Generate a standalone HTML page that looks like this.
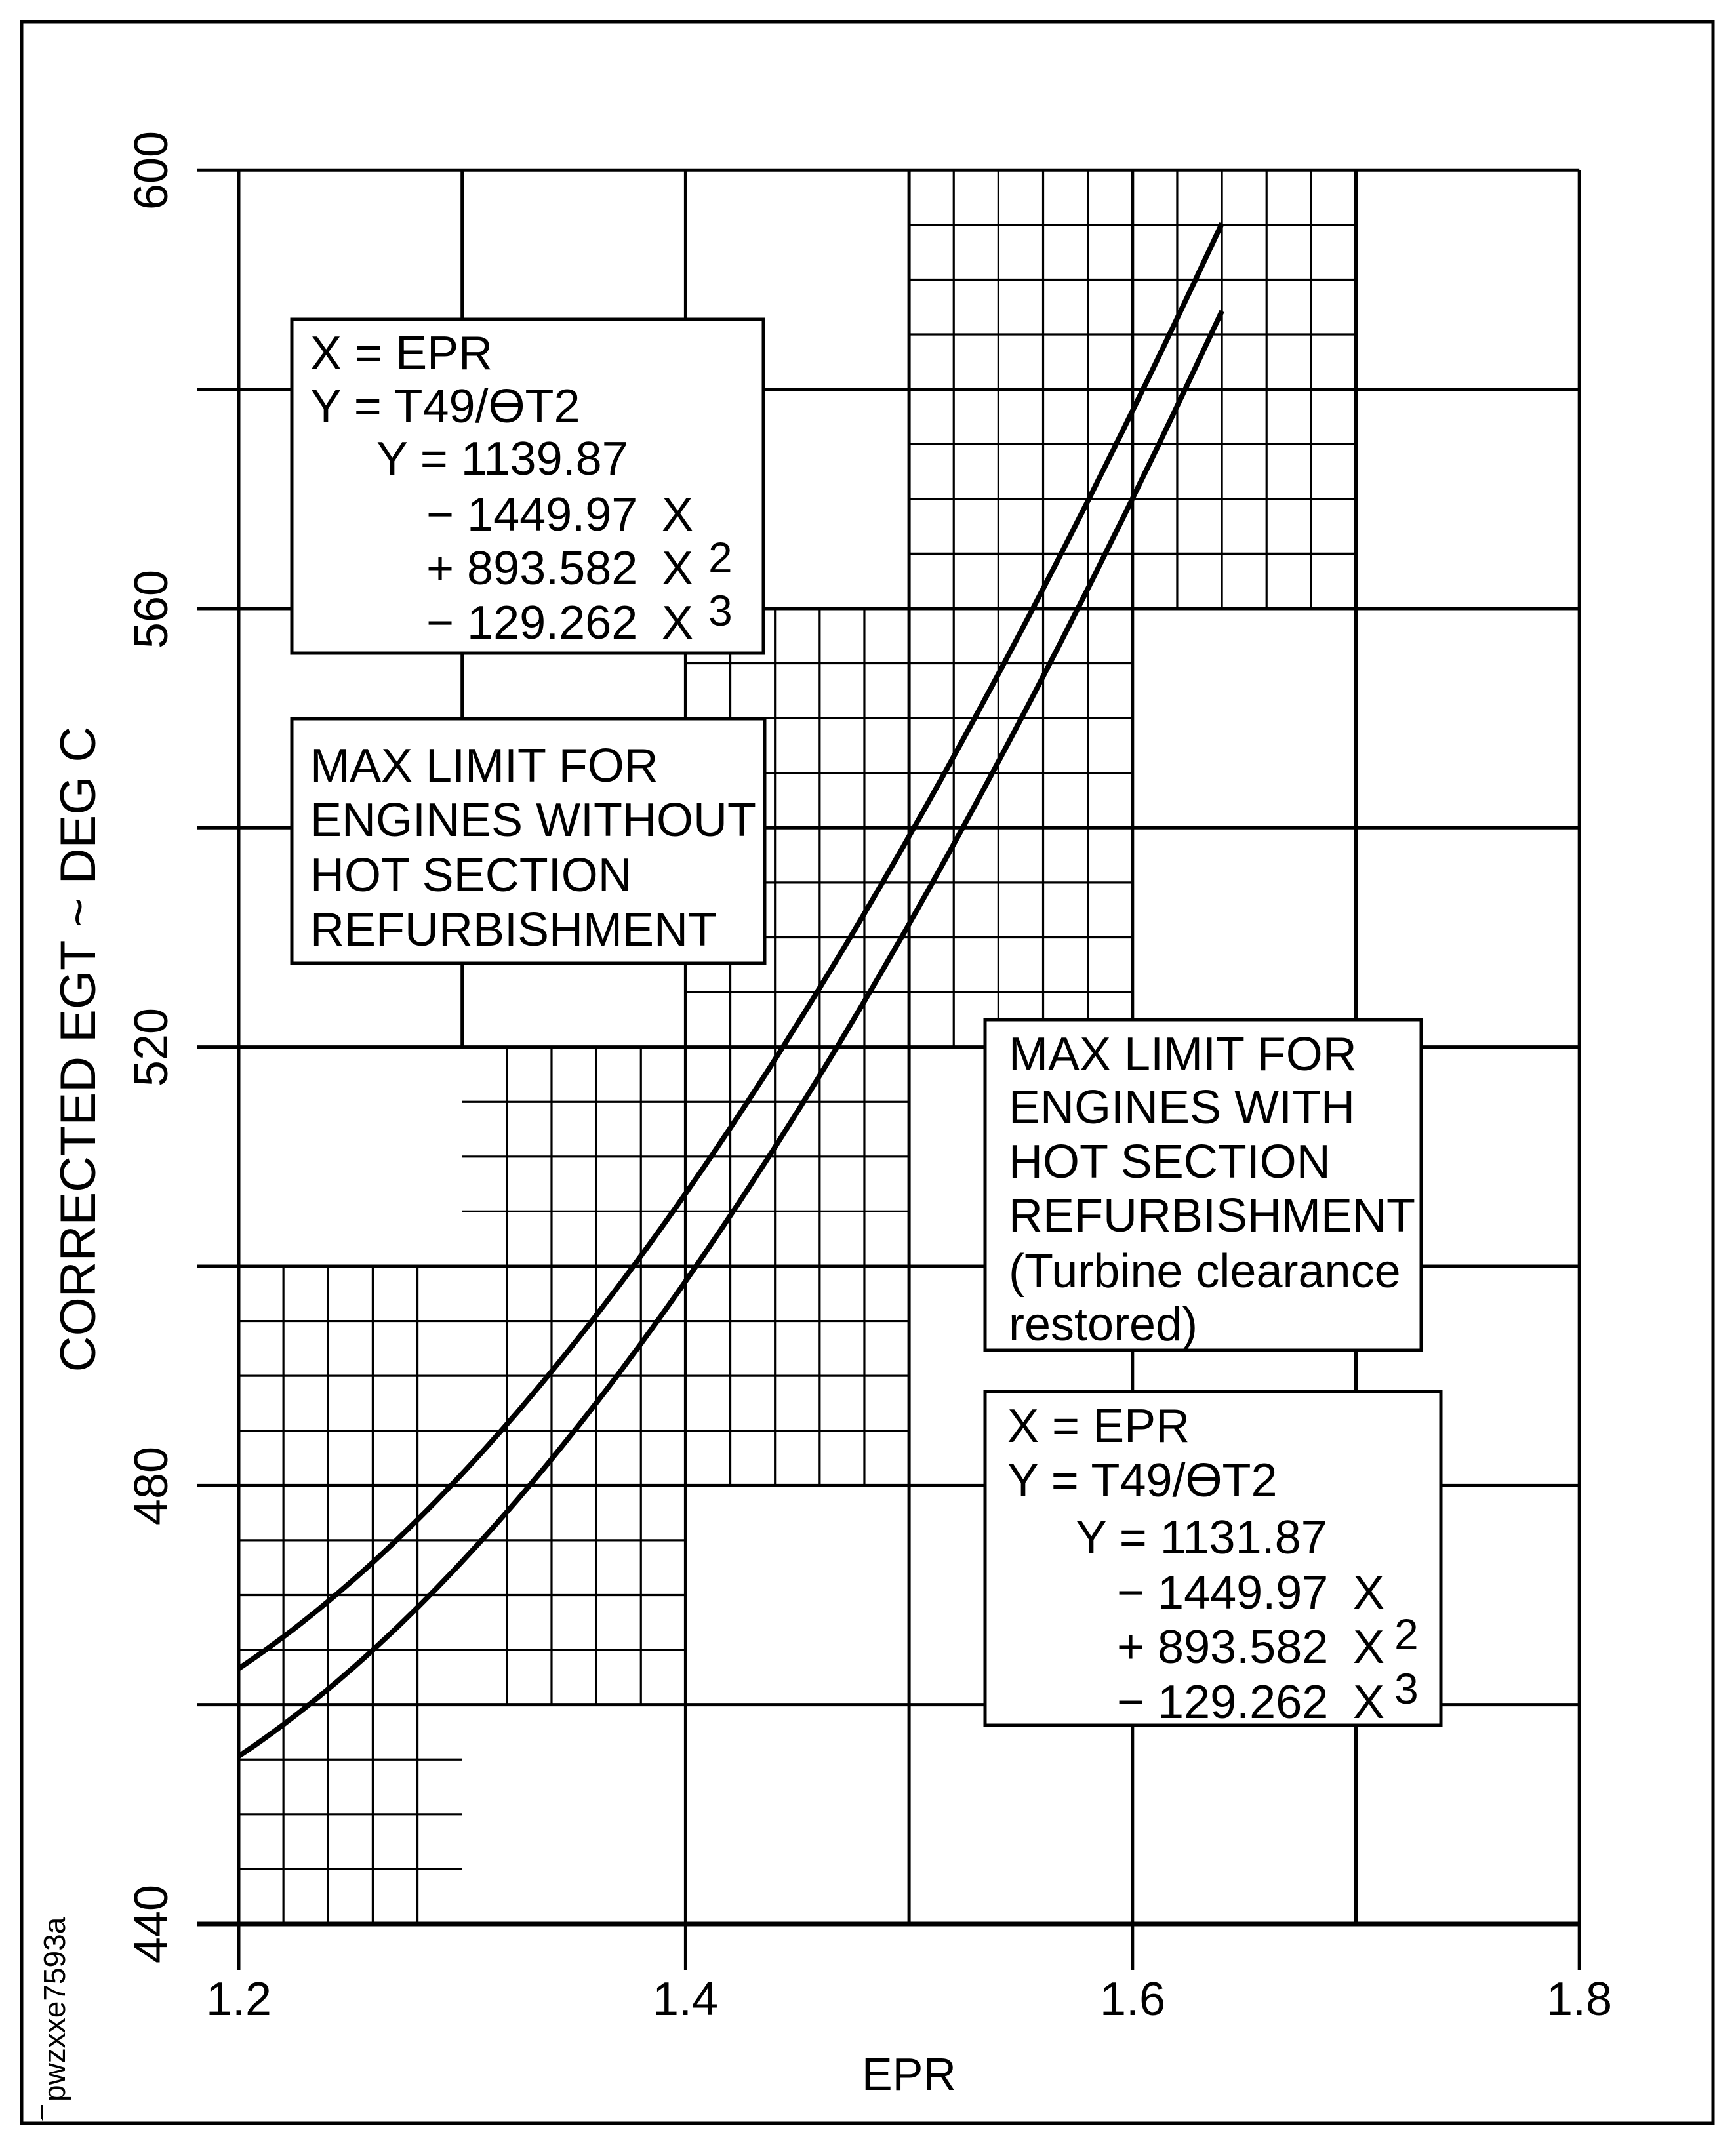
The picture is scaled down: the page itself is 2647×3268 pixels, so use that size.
<!DOCTYPE html>
<html><head><meta charset="utf-8"><style>
html,body{margin:0;padding:0;background:#fff}
svg{display:block}
text{font-family:"Liberation Sans",Arial,sans-serif;fill:#000}
</style></head><body>
<svg id="s" width="2647" height="3268" viewBox="0 0 2647 3268" xmlns="http://www.w3.org/2000/svg">
<rect x="33" y="33" width="2579" height="3205" fill="none" stroke="#000" stroke-width="5"/>
<g id="grid" stroke="#000" fill="none"></g>
<g id="curves" stroke="#000" fill="none" stroke-width="8"></g>

<!-- Box 1 -->
<rect x="445" y="487" width="719" height="509" fill="#fff" stroke="#000" stroke-width="5"/>
<g font-size="72">
<text x="473" y="563">X = EPR</text>
<text x="473" y="644">Y = T49/ϴT2</text>
<text x="574" y="724">Y = 1139.87</text>
<text x="650" y="809">− 1449.97</text><text x="1009" y="809">X</text>
<text x="650" y="891">+ 893.582</text><text x="1009" y="891">X</text><text x="1080" y="873" font-size="66">2</text>
<text x="650" y="974">− 129.262</text><text x="1009" y="974">X</text><text x="1080" y="954" font-size="66">3</text>
</g>

<!-- Box 2 -->
<rect x="445" y="1096" width="721" height="373" fill="#fff" stroke="#000" stroke-width="5"/>
<g font-size="72">
<text x="473" y="1192">MAX LIMIT FOR</text>
<text x="473" y="1275">ENGINES WITHOUT</text>
<text x="473" y="1359">HOT SECTION</text>
<text x="473" y="1442">REFURBISHMENT</text>
</g>

<!-- Box 3 -->
<rect x="1502" y="1555" width="665" height="504" fill="#fff" stroke="#000" stroke-width="5"/>
<g font-size="72">
<text x="1538" y="1632">MAX LIMIT FOR</text>
<text x="1538" y="1713">ENGINES WITH</text>
<text x="1538" y="1796">HOT SECTION</text>
<text x="1538" y="1878">REFURBISHMENT</text>
<text x="1538" y="1963">(Turbine clearance</text>
<text x="1538" y="2044">restored)</text>
</g>

<!-- Box 4 -->
<rect x="1502" y="2122" width="695" height="509" fill="#fff" stroke="#000" stroke-width="5"/>
<g font-size="72">
<text x="1536" y="2199">X = EPR</text>
<text x="1536" y="2282">Y = T49/ϴT2</text>
<text x="1640" y="2369">Y = 1131.87</text>
<text x="1703" y="2453">− 1449.97</text><text x="2063" y="2453">X</text>
<text x="1703" y="2536">+ 893.582</text><text x="2063" y="2536">X</text><text x="2126" y="2515" font-size="66">2</text>
<text x="1703" y="2620">− 129.262</text><text x="2063" y="2620">X</text><text x="2126" y="2598" font-size="66">3</text>
</g>

<!-- Y tick labels -->
<g font-size="72" text-anchor="middle">
<text transform="translate(255,260) rotate(-90)">600</text>
<text transform="translate(255,929) rotate(-90)">560</text>
<text transform="translate(255,1597) rotate(-90)">520</text>
<text transform="translate(255,2266) rotate(-90)">480</text>
<text transform="translate(255,2934) rotate(-90)">440</text>
</g>
<text transform="translate(145,1600) rotate(-90)" font-size="76" text-anchor="middle">CORRECTED EGT  ~  DEG  C</text>

<!-- X tick labels -->
<g font-size="72" text-anchor="middle">
<text x="364" y="3073">1.2</text>
<text x="1045" y="3073">1.4</text>
<text x="1727" y="3073">1.6</text>
<text x="2408" y="3073">1.8</text>
</g>
<text x="1386" y="3187" font-size="70" text-anchor="middle">EPR</text>

<text transform="translate(99,3205) rotate(-90)" font-size="46">pwzxxe7593a</text>
<path d="M64 3232 V3210 M64 3232 H66" stroke="#000" stroke-width="3" fill="none"/>
</svg>
<script>
(function(){
var NS="http://www.w3.org/2000/svg";
function X(e){return 364+(e-1.2)*3407;}
function Y(v){return 2934-(v-440)*16.717;}
var g=document.getElementById('grid');
function L(x1,y1,x2,y2,w){var l=document.createElementNS(NS,'line');l.setAttribute('x1',x1);l.setAttribute('y1',y1);l.setAttribute('x2',x2);l.setAttribute('y2',y2);l.setAttribute('stroke-width',w);g.appendChild(l);}
var MJ=5,MN=3.2;
for(var v=440;v<=600;v+=20){L(300,Y(v),X(1.8),Y(v),v==440?7:MJ);}
[1.2,1.4,1.5,1.6,1.7,1.8].forEach(function(e){var bot=(Math.abs(e-1.5)<1e-6||Math.abs(e-1.7)<1e-6)?Y(440):3004;L(X(e),Y(600),X(e),bot,MJ);});
L(X(1.3),Y(600),X(1.3),Y(520),MJ);
function vert(e1,e2,v1,v2){for(var e=e1+0.02;e<e2-0.001;e+=0.02)L(X(e),Y(v1),X(e),Y(v2),MN);}
function hor(e1,e2,v1,v2){for(var v=v1+5;v<v2-0.1;v+=5)L(X(e1),Y(v),X(e2),Y(v),MN);}
vert(1.2,1.3,440,500);
hor(1.2,1.3,440,460);
hor(1.2,1.4,460,480);
hor(1.2,1.4,480,500);
vert(1.3,1.4,460,520);
hor(1.3,1.4,500,520);
vert(1.4,1.5,480,520);
hor(1.4,1.5,480,520);
vert(1.4,1.6,520,560);
hor(1.4,1.6,520,560);
vert(1.5,1.7,560,600);
hor(1.5,1.7,560,600);
var c=document.getElementById('curves');
[1139.87,1131.87].forEach(function(a){
 var d='';
 for(var i=0;i<=110;i++){var e=1.2+0.44*i/110;var y=a-1449.97*e+893.582*e*e-129.262*e*e*e;d+=(i?'L':'M')+X(e).toFixed(1)+' '+Y(y).toFixed(1);}
 var p=document.createElementNS(NS,'path');p.setAttribute('d',d);c.appendChild(p);
});
})();
</script>
</body></html>
